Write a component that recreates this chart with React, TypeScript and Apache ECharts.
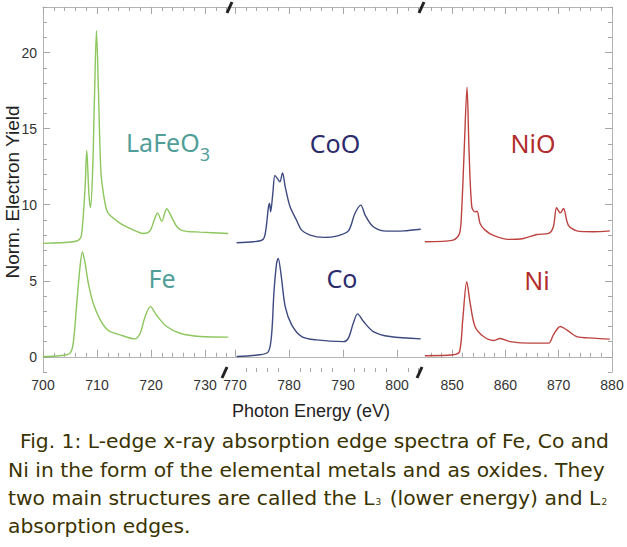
import React, { useEffect, useRef } from "react";
import * as echarts from "echarts";

// ---- data (photon energy in eV, normalized electron yield) ----
const laFeO3E = [700, 705.6, 706.9, 707.3, 707.8, 708.1, 708.5, 708.8, 709.2, 709.5, 709.9, 710.25, 710.7, 711.2, 711.8, 712.4, 714.3, 716.1, 718.6, 719.8, 720.6, 721.2, 722.0, 722.9, 723.8, 724.8, 726.0, 729.1, 734.3];
const laFeO3Y = [7.46, 7.56, 7.78, 8.55, 11.2, 13.57, 10.7, 9.8, 12.3, 16.6, 21.44, 17.7, 12.3, 10.7, 9.64, 9.3, 8.77, 8.44, 8.11, 8.28, 9.0, 9.46, 8.92, 9.73, 9.2, 8.55, 8.28, 8.2, 8.11];

const feE = [700, 703.1, 705.0, 705.6, 706.2, 706.85, 707.3, 707.8, 708.4, 709.3, 710.6, 712.1, 714.3, 717.0, 718.0, 718.9, 719.9, 721.0, 722.9, 725.4, 729.1, 734.3];
const feY = [0.02, 0.07, 0.24, 0.9, 3.3, 5.9, 6.9, 6.14, 4.83, 3.52, 2.43, 1.73, 1.44, 1.18, 1.55, 2.64, 3.3, 2.75, 1.99, 1.55, 1.33, 1.29];

const cooE = [770.3, 773.4, 775.2, 775.7, 776.2, 776.4, 776.6, 777.0, 777.4, 777.9, 778.3, 778.8, 779.3, 780.2, 781.4, 782.35, 783.9, 786.4, 788.8, 791.0, 792.2, 793.3, 794.1, 795.6, 798.1, 801.2, 804.4];
const cooY = [7.5, 7.56, 7.72, 8.33, 9.86, 10.08, 9.53, 10.73, 11.93, 11.7, 11.5, 12.09, 11.17, 9.86, 8.98, 8.33, 8.0, 7.85, 7.93, 8.28, 9.42, 9.97, 9.31, 8.55, 8.26, 8.28, 8.39];

const coE = [770.3, 774.6, 776.2, 776.8, 777.2, 777.7, 778.0, 778.5, 779.3, 780.5, 782.35, 785.1, 790.1, 791.0, 791.9, 792.7, 793.8, 795.6, 798.7, 804.4];
const coY = [0.02, 0.13, 0.35, 1.55, 4.18, 6.14, 6.47, 5.49, 3.3, 2.1, 1.33, 1.11, 1.0, 1.23, 2.2, 2.82, 2.32, 1.66, 1.33, 1.18];

const nioE = [844.9, 850.2, 851.4, 851.8, 852.25, 852.8, 853.2, 853.7, 854.3, 854.7, 855.25, 856.2, 857.75, 860.6, 863.4, 865.9, 868.1, 869.0, 869.6, 870.3, 870.9, 871.8, 873.4, 876.5, 879.6];
const nioY = [7.56, 7.67, 8.11, 9.64, 13.36, 17.72, 13.36, 9.86, 9.53, 9.57, 8.77, 8.33, 7.98, 7.72, 7.78, 8.04, 8.11, 8.55, 9.8, 9.46, 9.75, 8.66, 8.28, 8.22, 8.28];

const niE = [844.9, 850.2, 851.4, 852.0, 852.75, 853.4, 854.3, 855.9, 857.75, 859.0, 860.9, 864.6, 868.1, 869.0, 870.3, 871.5, 873.4, 876.5, 879.6];
const niY = [0.07, 0.13, 0.35, 2.43, 4.94, 3.52, 1.99, 1.33, 1.07, 1.2, 1.0, 0.9, 0.9, 1.44, 1.99, 1.77, 1.33, 1.23, 1.16];

// ---- tick values ----
const xMajor1 = [700, 710, 720, 730];
const xMajor2 = [770, 780, 790, 800];
const xMajor3 = [850, 860, 870, 880];
const yMajor = [0, 5, 10, 15, 20];

const evenMinors = (lo: number, hi: number, majors: number[]) => {
  const out: number[] = [];
  for (let v = lo; v <= hi; v += 2) if (!majors.includes(v)) out.push(v);
  return out;
};
const unitMinors = (lo: number, hi: number, majors: number[]) => {
  const out: number[] = [];
  for (let v = lo; v <= hi; v += 1) if (!majors.includes(v)) out.push(v);
  return out;
};

const zip = (xs: number[], ys: number[]) => xs.map((x, i) => [x, ys[i]]);

const Y_MIN = -1;
const Y_MAX = 23;
const AXIS_COLOR = "#b4b4b4";
const TICK_COLOR = "#a6a6a6";
const LABEL_FONT = "Liberation Sans";

const panels = [
  { left: 43, width: 186, min: 700, max: 734.44, majors: xMajor1, minors: evenMinors(702, 734, xMajor1) },
  { left: 229, width: 192, min: 768.89, max: 804.44, majors: xMajor2, minors: evenMinors(770, 804, xMajor2) },
  { left: 421, width: 191, min: 844.17, max: 880, majors: xMajor3, minors: evenMinors(846, 880, xMajor3) },
];

export default function App() {
  const ref = useRef<HTMLDivElement>(null);

  useEffect(() => {
    document.body.style.margin = "0";
    if (!ref.current) return;
    const chart = echarts.init(ref.current, undefined, { renderer: "svg" });

    const grid = panels.map((p) => ({ left: p.left, width: p.width, top: 7, height: 365, containLabel: false }));

    const xAxis: any[] = [];
    panels.forEach((p, i) => {
      const base = { gridIndex: i, type: "value", min: p.min, max: p.max, splitLine: { show: false } };
      xAxis.push({
        ...base,
        position: "bottom",
        axisLine: { show: true, lineStyle: { color: AXIS_COLOR, width: 1 } },
        axisTick: { show: true, inside: true, length: 7, customValues: p.majors, lineStyle: { color: TICK_COLOR } },
        axisLabel: { show: true, customValues: p.majors, color: "#333", fontSize: 14, fontFamily: LABEL_FONT, margin: 6 },
      });
      xAxis.push({
        ...base,
        position: "bottom",
        axisLine: { show: false },
        axisTick: { show: true, inside: true, length: 4, customValues: p.minors, lineStyle: { color: TICK_COLOR } },
        axisLabel: { show: false },
      });
      xAxis.push({
        ...base,
        position: "top",
        axisLine: { show: true, lineStyle: { color: AXIS_COLOR, width: 1 } },
        axisTick: { show: true, inside: true, length: 7, customValues: p.majors, lineStyle: { color: TICK_COLOR } },
        axisLabel: { show: false },
      });
      xAxis.push({
        ...base,
        position: "top",
        axisLine: { show: false },
        axisTick: { show: true, inside: true, length: 4, customValues: p.minors, lineStyle: { color: TICK_COLOR } },
        axisLabel: { show: false },
      });
    });

    const yMinors = unitMinors(Y_MIN, Y_MAX, yMajor);
    const yBase = { type: "value", min: Y_MIN, max: Y_MAX, splitLine: { show: false } };
    const yAxis: any[] = [
      {
        ...yBase,
        gridIndex: 0,
        position: "left",
        axisLine: { show: true, lineStyle: { color: AXIS_COLOR } },
        axisTick: { show: true, inside: true, length: 7, customValues: yMajor, lineStyle: { color: TICK_COLOR } },
        axisLabel: { show: true, customValues: yMajor, color: "#333", fontSize: 14, fontFamily: LABEL_FONT, margin: 6 },
      },
      {
        ...yBase,
        gridIndex: 0,
        position: "left",
        axisLine: { show: false },
        axisTick: { show: true, inside: true, length: 4, customValues: yMinors, lineStyle: { color: TICK_COLOR } },
        axisLabel: { show: false },
      },
      { ...yBase, gridIndex: 1, show: false },
      {
        ...yBase,
        gridIndex: 2,
        position: "right",
        axisLine: { show: true, lineStyle: { color: AXIS_COLOR } },
        axisTick: { show: true, inside: true, length: 7, customValues: yMajor, lineStyle: { color: TICK_COLOR } },
        axisLabel: { show: false },
      },
      {
        ...yBase,
        gridIndex: 2,
        position: "right",
        axisLine: { show: false },
        axisTick: { show: true, inside: true, length: 4, customValues: yMinors, lineStyle: { color: TICK_COLOR } },
        axisLabel: { show: false },
      },
    ];

    const line = (name: string, data: number[][], color: string, xi: number, yi: number) => ({
      name,
      type: "line",
      xAxisIndex: xi,
      yAxisIndex: yi,
      data,
      showSymbol: false,
      symbol: "none",
      smooth: 0.3,
      lineStyle: { color, width: 1.4 },
      emphasis: { disabled: true },
    });

    const GREEN = "#8cc65c";
    const BLUE = "#3d4a80";
    const RED = "#bd4340";

    const series = [
      line("LaFeO3", zip(laFeO3E, laFeO3Y), GREEN, 0, 0),
      line("Fe", zip(feE, feY), GREEN, 0, 0),
      line("CoO", zip(cooE, cooY), BLUE, 4, 2),
      line("Co", zip(coE, coY), BLUE, 4, 2),
      line("NiO", zip(nioE, nioY), RED, 8, 3),
      line("Ni", zip(niE, niY), RED, 8, 3),
    ];

    const breakMark = (x1: number, y1: number, x2: number, y2: number) => ({
      type: "line",
      shape: { x1, y1, x2, y2 },
      style: { stroke: "#222", lineWidth: 3 },
      z: 100,
    });

    const TEAL = "#519e99";
    const NAVY = "#2c2b6c";
    const DRED = "#b22c2c";
    const LBL_FONT = "Noto Sans";

    const sampleLabel = (x: number, y: number, text: string, color: string, rich?: any) => ({
      type: "text",
      x,
      y,
      z: 50,
      style: {
        text,
        fill: color,
        fontSize: 25,
        fontFamily: LBL_FONT,
        align: "center",
        verticalAlign: "middle",
        ...(rich ? { rich } : {}),
      },
    });

    const CAP_COLOR = "#3a3300";
    const CAP_FONT = "DejaVu Sans";
    const CAP_SIZE = 20.3;
    const capLine = (x: number, y: number, text: string, rich?: any) => ({
      type: "text",
      x,
      y,
      style: {
        text,
        fill: CAP_COLOR,
        fontSize: CAP_SIZE,
        fontFamily: CAP_FONT,
        align: "left",
        verticalAlign: "middle",
        ...(rich ? { rich } : {}),
      },
    });

    const graphic: any[] = [
      breakMark(227, 13, 232, 2),
      breakMark(222, 378, 227, 367),
      breakMark(419, 13, 424, 2),
      breakMark(417, 378, 422, 367),
      sampleLabel(168, 146, "{a|LaFeO}{b|3}", TEAL, {
        a: { fill: TEAL, fontSize: 25, fontFamily: LBL_FONT, lineHeight: 34, verticalAlign: "top" },
        b: { fill: TEAL, fontSize: 18, fontFamily: LBL_FONT, lineHeight: 34, verticalAlign: "bottom" },
      }),
      sampleLabel(162, 278, "Fe", TEAL),
      sampleLabel(335, 143, "CoO", NAVY),
      sampleLabel(342, 278, "Co", NAVY),
      sampleLabel(533, 143, "NiO", DRED),
      sampleLabel(537, 280, "Ni", DRED),
      {
        type: "text",
        x: 12,
        y: 192,
        rotation: Math.PI / 2,
        style: { text: "Norm. Electron Yield", fill: "#222", fontSize: 19, fontFamily: LABEL_FONT, align: "center", verticalAlign: "middle" },
      },
      {
        type: "text",
        x: 311,
        y: 411,
        style: { text: "Photon Energy (eV)", fill: "#222", fontSize: 18, fontFamily: LABEL_FONT, align: "center", verticalAlign: "middle" },
      },
      capLine(20, 441, "Fig. 1: L-edge x-ray absorption edge spectra of Fe, Co and"),
      capLine(8, 470, "Ni in the form of the elemental metals and as oxides. They"),
      capLine(8, 498, "{n|two main structures are called the L}{s|3}{n| (lower energy) and L}{s|2}", {
        n: { fill: CAP_COLOR, fontSize: CAP_SIZE, fontFamily: CAP_FONT, lineHeight: 26, verticalAlign: "middle" },
        s: { fill: CAP_COLOR, fontSize: 9, fontFamily: CAP_FONT, lineHeight: 26, verticalAlign: "bottom", padding: [0, 2, 5, 1] },
      }),
      capLine(8, 526, "absorption edges."),
    ];

    chart.setOption({
      animation: false,
      backgroundColor: "#ffffff",
      grid,
      xAxis,
      yAxis,
      series,
      graphic,
    });

    return () => chart.dispose();
  }, []);

  return <div ref={ref} style={{ width: 627, height: 547 }} />;
}
